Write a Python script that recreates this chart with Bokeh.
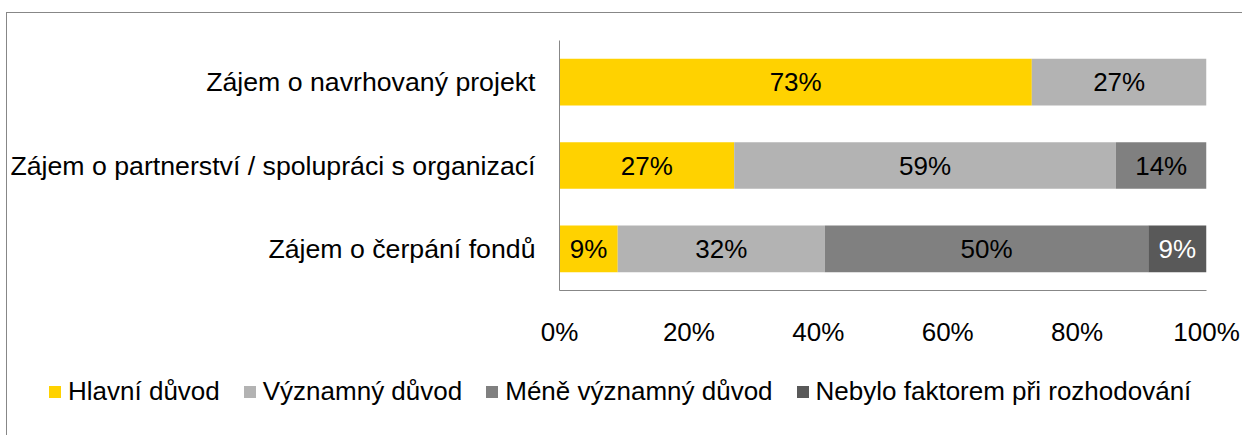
from bokeh.plotting import figure
from bokeh.layouts import column
from bokeh.models import ColumnDataSource, FactorRange, Range1d, FixedTicker, PrintfTickFormatter, Legend, LegendItem
from bokeh.core.properties import value
from bokeh.embed import file_html
from bokeh.resources import INLINE

categories = ["Zájem o čerpání fondů",
              "Zájem o partnerství / spolupráci s organizací",
              "Zájem o navrhovaný projekt"]
series = ["Hlavní důvod", "Významný důvod", "Méně významný důvod", "Nebylo faktorem při rozhodování"]
hlavni = [9, 27, 73]
vyznamny = [32, 59, 27]
mene = [50, 14, 0]
nebylo = [9, 0, 0]
colors = ["#FFD200", "#B3B3B3", "#808080", "#595959"]
label_colors = ["black", "black", "black", "white"]
x_ticks = [0, 20, 40, 60, 80, 100]

FONT = "Liberation Sans"
values = [hlavni, vyznamny, mene, nebylo]
keys = ["s0", "s1", "s2", "s3"]
data = {"cat": categories}
for k, v in zip(keys, values):
    data[k] = v
src = ColumnDataSource(data)

p = figure(y_range=FactorRange(*categories), x_range=Range1d(0, 100),
           frame_width=647, frame_height=250, output_backend="svg", toolbar_location=None,
           min_border_left=551, min_border_right=37, min_border_top=27, min_border_bottom=80)

renderers = p.hbar_stack(keys, y="cat", height=0.56, color=colors, source=src, line_color=None)

# labels
lx, ly, lt, lc = [], [], [], []
for i, cat in enumerate(categories):
    start = 0
    for j, v in enumerate(values):
        val = v[i]
        if val > 0:
            lx.append(start + val / 2)
            ly.append(cat)
            lt.append(f"{val}%")
            lc.append(label_colors[j])
        start += val
lsrc = ColumnDataSource(dict(x=lx, y=ly, t=lt, c=lc))
p.text(x="x", y="y", text="t", text_color="c", source=lsrc, text_align="center",
       text_baseline="middle", text_font=value(FONT), text_font_size="26px")

p.xgrid.visible = False
p.ygrid.visible = False
p.outline_line_color = None

p.xaxis.ticker = FixedTicker(ticks=x_ticks)
p.xaxis.formatter = PrintfTickFormatter(format="%d%%")
for ax in (p.xaxis[0], p.yaxis[0]):
    ax.axis_line_color = "#878787"
    ax.axis_line_width = 1
    ax.major_tick_line_color = None
    ax.minor_tick_line_color = None
    ax.major_label_text_font = FONT
    ax.major_label_text_font_size = "26px"
    ax.major_label_text_color = "black"
p.yaxis.major_label_text_font_size = "26.7px"
p.xaxis.major_label_standoff = 20
p.yaxis.major_label_standoff = 18

# legend strip (legend glyphs only; its dummy quads lie outside the visible range)
lg = figure(x_range=Range1d(0, 1), y_range=Range1d(0, 1), x_axis_type=None, y_axis_type=None,
            frame_width=1235, frame_height=65, min_border=0, output_backend="svg",
            toolbar_location=None)
lg.outline_line_color = None
lg.xgrid.visible = False
lg.ygrid.visible = False
lrs = [lg.quad(left=[-3], right=[-2], bottom=[-3], top=[-2], fill_color=c, line_color=None)
       for c in colors]
items = [LegendItem(label=s, renderers=[r]) for s, r in zip(series, lrs)]
legend = Legend(items=items, orientation="horizontal", location=(40, 28),
                label_text_font=FONT, label_text_font_size="26px", label_text_color="black",
                glyph_width=15, glyph_height=15, label_standoff=6, spacing=22,
                border_line_color=None, background_fill_alpha=0, padding=0, margin=0)
lg.add_layout(legend, "center")

layout = column(p, lg, spacing=0,
                styles={"margin-left": "6px", "margin-top": "12px",
                        "border-top": "1px solid #878787", "border-left": "1px solid #878787"})

open("out.html", "w").write(file_html(layout, INLINE))
